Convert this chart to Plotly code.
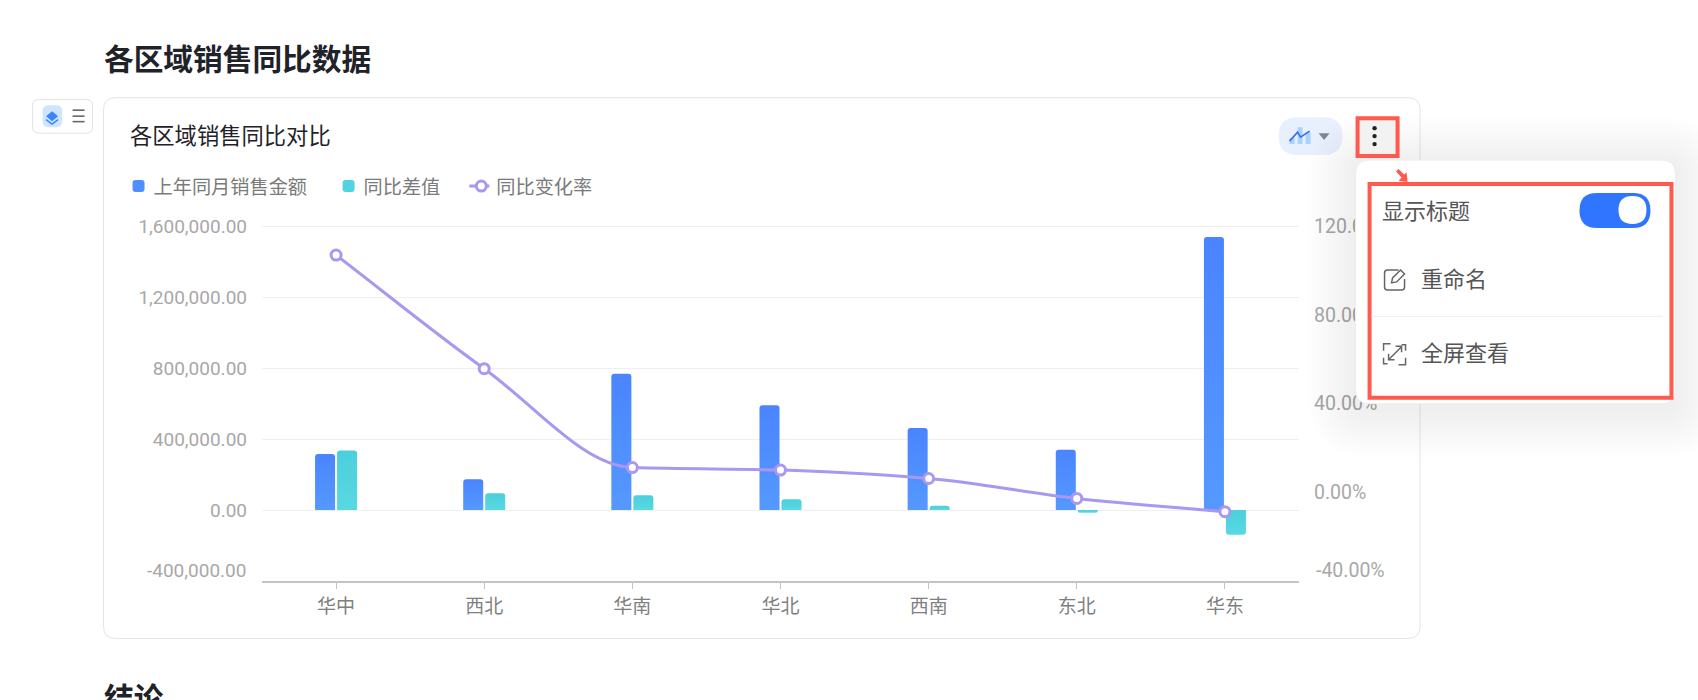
import plotly.graph_objects as go

regions = ["华中", "西北", "华南", "华北", "西南", "东北", "华东"]
last_year = [315000, 173000, 768000, 591000, 462000, 340000, 1538000]
diff = [336000, 94000, 83000, 60000, 24000, -15000, -139000]
rate = [106.9, 55.7, 11.1, 10.0, 6.2, -2.8, -8.8]
y_ticks = [1600000, 1200000, 800000, 400000, 0]
y_labels = ["1,600,000.00", "1,200,000.00", "800,000.00", "400,000.00", "0.00"]
y2_ticks = [120, 80, 40, 0]
y2_labels = ["120.00%", "80.00%", "40.00%", "0.00%"]
names = ["上年同月销售金额", "同比差值", "同比变化率"]

W, H = 1698, 700
L, R, T, B = 262, 1299.4, 225, 581.5
CJK = "Noto Sans CJK SC"
NUM = "Roboto, Noto Sans CJK SC"
RED = "#ff5a4d"


def X(x):
    return (x - L) / (R - L)


def Y(y):
    return (B - y) / (B - T)


def pth(cmds):
    out = []
    for c in cmds:
        if isinstance(c, str):
            out.append(c)
        else:
            out.append(" ".join(f"{X(c[i]):.5f},{Y(c[i + 1]):.5f}" for i in range(0, len(c), 2)))
    return " ".join(out)


def rr(x0, y0, x1, y1, r):
    return pth(["M", (x0 + r, y0), "L", (x1 - r, y0), "Q", (x1, y0, x1, y0 + r), "L", (x1, y1 - r),
                "Q", (x1, y1, x1 - r, y1), "L", (x0 + r, y1), "Q", (x0, y1, x0, y1 - r), "L", (x0, y0 + r),
                "Q", (x0, y0, x0 + r, y0), "Z"])


shapes = []


def add(path, fill="rgba(0,0,0,0)", color="rgba(0,0,0,0)", width=0, layer="above"):
    shapes.append(dict(type="path", xref="paper", yref="paper", path=path, fillcolor=fill,
                       line=dict(color=color, width=width), layer=layer))


def line(pts, color, width):
    cmds = ["M", pts[0]]
    for p in pts[1:]:
        cmds += ["L", p]
    add(pth(cmds), color=color, width=width)


def circle(cx, cy, r, fill):
    add(rr(cx - r, cy - r, cx + r, cy + r, r), fill=fill)


# card and left widget
add(rr(103.5, 97.5, 1420.5, 639, 12), fill="#ffffff", color="#e3e3e3", width=1, layer="below")
add(rr(32.5, 99.5, 92.5, 133, 6), fill="#ffffff", color="#e3e3e3", width=1)
add(rr(42.5, 105, 62, 127, 6), fill="#cfe4ff")
add(pth(["M", (52, 111), "L", (58, 116), "L", (52, 121), "L", (46, 116), "Z"]), fill="#3a86ff")
line([(46, 119.5), (52, 124), (58, 119.5)], "#3a86ff", 1.5)
for yy in (110, 116, 121.5):
    line([(72.5, yy), (84.5, yy)], "#666666", 1.6)

# chart-type pill
add(rr(1279, 117, 1343, 155, 19), fill="#e9f0fd")
for x0, y0 in ((1290, 138), (1298, 127), (1306, 132)):
    add(rr(x0, y0, x0 + 5, 144, 0.5), fill="#a9d3ff")
line([(1290, 141), (1298, 132), (1301, 137), (1310, 131)], "#3c6cf0", 1.6)
add(pth(["M", (1319, 133), "L", (1330, 133), "L", (1324.5, 140), "Z"]), fill="#7f8794")

# popup shadow and body
for i in range(16):
    s = 3 * (16 - i)
    add(rr(1356 - s, 164 - s, 1676 + s, 410 + s, 14 + s), fill="rgba(0,0,0,0.004)")
add(rr(1356, 160, 1676, 404, 14), fill="#ffffff", color="#eeeeee", width=1)

# kebab button
add(rr(1358, 118, 1398, 156, 0), fill="#f2f2f2", color=RED, width=4)
for yy in (128, 136, 144):
    circle(1375, yy, 2.2, "#222222")

# red call-outs
add(rr(1370, 184, 1672, 398, 0), color=RED, width=4)
add(pth(["M", (1396.5, 171.5), "L", (1399, 169), "L", (1404.5, 174.5), "L", (1407, 172.5), "L", (1408, 182),
         "L", (1399, 181), "L", (1402, 177.5), "Z"]), fill=RED)

# toggle
add(rr(1580, 193, 1651, 228, 17.5), fill="#2f75ff")
circle(1633, 210, 14, "#ffffff")
line([(1372, 316.5), (1663, 316.5)], "#eeeeee", 1)

# rename icon
add(pth(["M", (1399, 270), "L", (1388, 270), "Q", (1385, 270, 1385, 273), "L", (1385, 287), "Q", (1385, 290, 1388, 290),
         "L", (1402, 290), "Q", (1405, 290, 1405, 287), "L", (1405, 279)]), color="#666666", width=1.5)
add(pth(["M", (1392, 283), "L", (1393, 278), "L", (1401, 270), "L", (1405, 274), "L", (1397, 282), "Z"]),
    color="#666666", width=1.5)
# fullscreen icon
add(pth(["M", (1391, 344), "L", (1384, 344), "L", (1384, 351)]), color="#666666", width=1.5)
add(pth(["M", (1384, 358), "L", (1384, 364), "L", (1388, 364)]), color="#666666", width=1.5)
add(pth(["M", (1399, 365), "L", (1406, 365), "L", (1406, 358)]), color="#666666", width=1.5)
add(pth(["M", (1406, 351), "L", (1406, 345), "L", (1402, 345)]), color="#666666", width=1.5)
line([(1389, 360), (1402, 347)], "#666666", 1.5)
line([(1396, 346.5), (1402, 346.5), (1402, 352.5)], "#666666", 1.5)
line([(1389, 354), (1389, 360), (1395, 360)], "#666666", 1.5)


def txt(x, y, s, size, color, font=CJK, anchor="left", bold=False):
    return dict(x=X(x), y=Y(y), xref="paper", yref="paper", text=f"<b>{s}</b>" if bold else s, showarrow=False,
                xanchor=anchor, yanchor="middle", font=dict(size=size, color=color, family=font),
                borderpad=0, borderwidth=0)


annotations = [
    txt(103.5, 57, "各区域销售同比数据", 29.7, "#1f2329", bold=True),
    txt(130, 134, "各区域销售同比对比", 22.3, "#1f2329"),
    txt(245.5, 571, "-400,000.00", 19, "#a8a8a8", font=NUM, anchor="right"),
    txt(1316.5, 571, "-40.00%", 19.5, "#a8a8a8", font=NUM),
    txt(1382.5, 209, "显示标题", 22, "#555555"),
    txt(1421, 277.5, "重命名", 22, "#555555"),
    txt(1421, 351, "全屏查看", 22, "#555555"),
    txt(103.5, 697, "结论", 29.7, "#1f2329", bold=True),
]

fig = go.Figure()
fig.add_bar(x=regions, y=last_year, name=names[0], marker_color="#4f8ffe", marker_line_width=0)
fig.add_bar(x=regions, y=diff, name=names[1], marker_color="#52d4df", marker_line_width=0)
fig.add_scatter(x=regions, y=rate, name=names[2], yaxis="y2", mode="lines+markers",
                line=dict(color="#aa98f0", width=3, shape="spline", smoothing=0.6),
                marker=dict(size=10, color="#ffffff", line=dict(color="#aa98f0", width=3)))

fig.update_layout(
    width=W, height=H, autosize=False,
    margin=dict(l=L, r=W - R, t=T, b=H - B, pad=0, autoexpand=False),
    paper_bgcolor="#ffffff", plot_bgcolor="rgba(0,0,0,0)",
    barmode="group", bargap=0.703, bargroupgap=0.09, barcornerradius=3,
    font=dict(family=CJK),
    showlegend=True,
    legend=dict(orientation="h", x=X(113.5), y=Y(186), xanchor="left", yanchor="middle", tracegroupgap=0,
                font=dict(size=19.2, color="#7a7a7a", family=CJK), bgcolor="rgba(0,0,0,0)"),
    xaxis=dict(type="category", showline=True, linecolor="#c4c4c4", linewidth=1.5, ticks="outside",
               ticklen=6, tickcolor="#c4c4c4", tickwidth=1, showgrid=False, zeroline=False,
               tickfont=dict(size=19, color="#7f7f7f", family=CJK), ticklabelstandoff=1),
    yaxis=dict(range=[-400000, 1606000], tickmode="array", tickvals=y_ticks, ticktext=y_labels,
               showgrid=True, gridcolor="#efefef", gridwidth=1, zeroline=False, showline=False, ticks="",
               tickfont=dict(size=19, color="#a8a8a8", family=NUM), ticklabelstandoff=14),
    yaxis2=dict(range=[-40, 120.45], overlaying="y", side="right", tickmode="array", tickvals=y2_ticks,
                ticktext=y2_labels, showgrid=False, zeroline=False, showline=False, ticks="",
                tickfont=dict(size=19.5, color="#a8a8a8", family=NUM), ticklabelstandoff=14),
    shapes=shapes,
    annotations=annotations,
)

post = """
document.documentElement.style.overflow='hidden';
document.body.style.margin='0';
var gd=document.getElementById('{plot_id}');
var svg=gd.querySelector('.main-svg');
var ns='http://www.w3.org/2000/svg';
var defs=document.createElementNS(ns,'defs');
[['gb','#4a84ff','#5599ff'],['gt','#4ccfdd','#58d9e2']].forEach(function(g){
  var lg=document.createElementNS(ns,'linearGradient');
  lg.setAttribute('id',g[0]);lg.setAttribute('x1','0');lg.setAttribute('y1','0');lg.setAttribute('x2','0');lg.setAttribute('y2','1');
  [[0,g[1]],[1,g[2]]].forEach(function(s){var st=document.createElementNS(ns,'stop');st.setAttribute('offset',s[0]);st.setAttribute('stop-color',s[1]);lg.appendChild(st);});
  defs.appendChild(lg);
});
svg.appendChild(defs);
gd.querySelectorAll('.barlayer .trace').forEach(function(t,i){
  t.querySelectorAll('.point path').forEach(function(p){p.style.fill='url(#'+(i==0?'gb':'gt')+')';});
});
// legend: spread the entries and tighten the symbols
var sb=gd.querySelector('.legend .scrollbox'); if(sb){sb.removeAttribute('clip-path');}
var lshift=[0,11.5,22.5];
gd.querySelectorAll('.legend .traces').forEach(function(t,i){
  var m=/translate\\(([-\\d.]+),\\s*([-\\d.]+)\\)/.exec(t.getAttribute('transform'));
  t.setAttribute('transform','translate('+(parseFloat(m[1])+lshift[i])+','+m[2]+')');
});
gd.querySelectorAll('.legend .legendsymbols').forEach(function(s){s.setAttribute('transform','translate(5,0)');});
gd.querySelectorAll('.legend .legendlines path').forEach(function(p){p.setAttribute('d','M13,0h20');});
gd.querySelectorAll('.legend .scatterpts path').forEach(function(p){p.setAttribute('transform','translate(23,0) scale(0.85)');});
// monotone-x curve through the plotted points, as in the reference
var pts=[];
gd.querySelectorAll('.scatterlayer .trace .points path').forEach(function(p){
  var m=/translate\\(([-\\d.]+),\\s*([-\\d.]+)\\)/.exec(p.getAttribute('transform'));
  pts.push([parseFloat(m[1]),parseFloat(m[2])]);
});
var n=pts.length,s=[],d=[];
for(var i=0;i<n-1;i++){s.push((pts[i+1][1]-pts[i][1])/(pts[i+1][0]-pts[i][0]));}
d[0]=s[0];d[n-1]=s[n-2];
for(var i=1;i<n-1;i++){d[i]=(s[i-1]*s[i]<=0)?0:2*s[i-1]*s[i]/(s[i-1]+s[i]);}
var str='M'+pts[0][0]+','+pts[0][1];
for(var i=0;i<n-1;i++){
  var h=(pts[i+1][0]-pts[i][0])/3;
  str+='C'+(pts[i][0]+h)+','+(pts[i][1]+d[i]*h)+' '+(pts[i+1][0]-h)+','+(pts[i+1][1]-d[i+1]*h)+' '+pts[i+1][0]+','+pts[i+1][1];
}
var lp=gd.querySelector('.scatterlayer .trace .js-line'); if(lp){lp.setAttribute('d',str);}
"""
fig.write_html("out.html", post_script=post, config=dict(displayModeBar=False))
